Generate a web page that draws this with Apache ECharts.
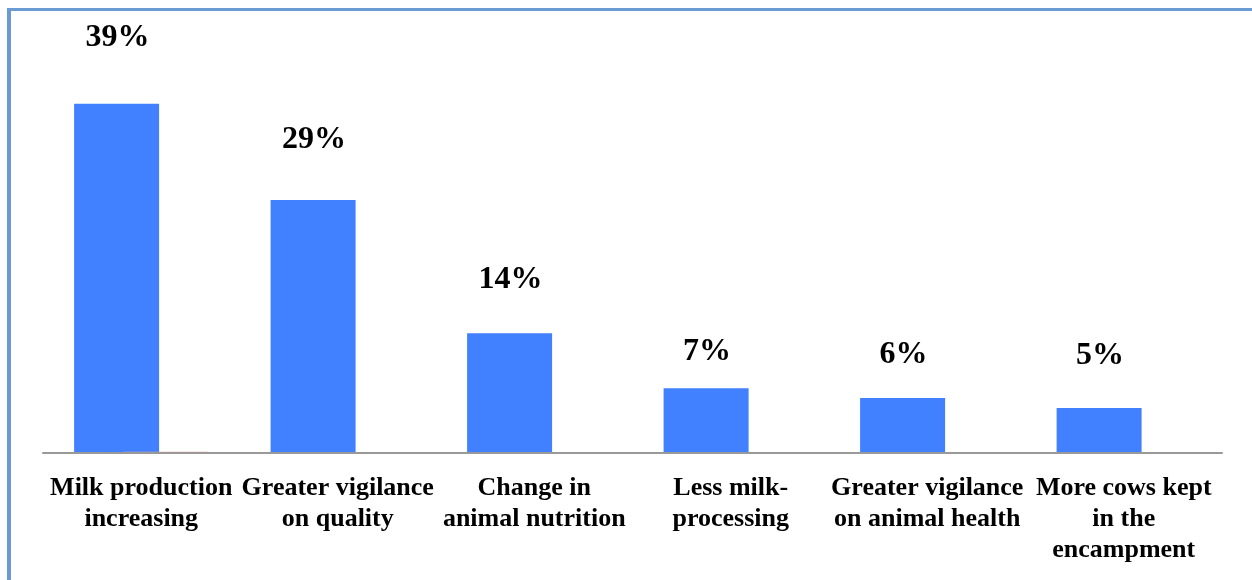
<!DOCTYPE html>
<html>
<head>
<meta charset="utf-8">
<script src="https://cdn.jsdelivr.net/npm/echarts@6/dist/echarts.min.js"></script>
<style>
  body { margin: 0; background: #fff; }
  #chart { position: absolute; left: 0; top: 0; width: 1252px; height: 580px; }
  #frame { position: absolute; left: 7px; top: 8px; width: 2000px; height: 2000px;
           border-left: 4px solid #6a9bd3; border-top: 3px solid #6a9bd3; pointer-events: none; }
</style>
</head>
<body>
<div id="chart"></div>
<div id="frame"></div>
<script>
  // categories + values
  var categories = [
    'Milk production\nincreasing',
    'Greater vigilance\non quality',
    'Change in\nanimal nutrition',
    'Less milk-\nprocessing',
    'Greater vigilance\non animal health',
    'More cows kept\nin the\nencampment'
  ]
  var shareValues = [38.8, 28.1, 13.3, 7.2, 6.1, 5.0]
  var shareLabels = ['39%', '29%', '14%', '7%', '6%', '5%']
  // second (almost empty) series, only a sliver is visible under the first bar
  var otherValues = [0.15, 0, 0, 0, 0, 0]

  // label offsets above bar tops (the labels are not all at the same distance)
  var labelOffsets = [-50, -44, -38, -20, -27, -36]

  var chart = echarts.init(document.getElementById('chart'))

  var shareData = []
  for (var i = 0; i < shareValues.length; i++) {
    shareData.push({
      value: shareValues[i],
      label: {offset: [1, labelOffsets[i]]}
    })
  }

  chart.setOption({
    backgroundColor: 'transparent',
    animation: false,
    grid: {
      left: 43,
      right: 30,
      top: 48,
      bottom: 127
    },
    xAxis: {
      type: 'category',
      data: categories,
      z: 10,
      axisTick: {show: false},
      axisLine: {
        show: true,
        lineStyle: {color: '#999', width: 2}
      },
      axisLabel: {
        interval: 0,
        margin: 20,
        color: '#000',
        fontFamily: 'Liberation Serif',
        fontWeight: 'bold',
        fontSize: 26,
        lineHeight: 31
      }
    },
    yAxis: {
      type: 'value',
      min: 0,
      max: 45,
      show: false,
      splitLine: {show: false}
    },
    series: [
      {
        name: 'share',
        type: 'bar',
        data: shareData,
        barWidth: 85,
        barGap: '-42%',
        itemStyle: {color: '#4181ff'},
        label: {
          show: true,
          position: 'top',
          distance: 0,
          color: '#000',
          fontFamily: 'Liberation Serif',
          fontWeight: 'bold',
          fontSize: 32,
          formatter: function (p) {
            return shareLabels[p.dataIndex]
          }
        }
      },
      {
        name: 'other',
        type: 'bar',
        data: otherValues,
        barWidth: 85,
        itemStyle: {color: '#eea898'}
      }
    ]
  })
</script>
</body>
</html>
